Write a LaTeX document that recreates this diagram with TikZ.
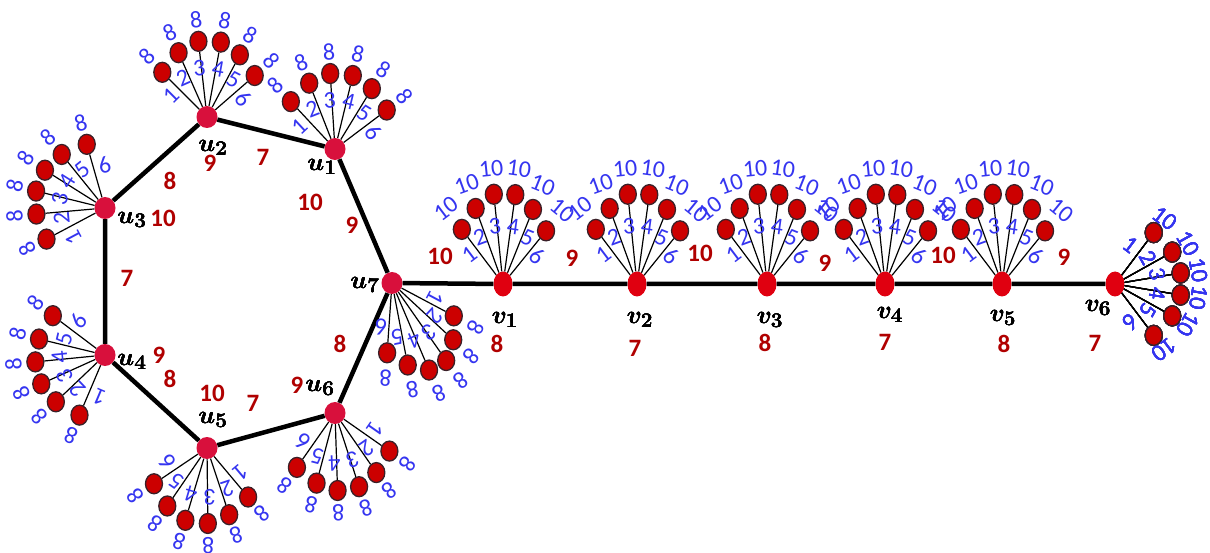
\documentclass[tikz,border=0pt]{standalone}
\usepackage{fontspec}
\usepackage{tikz}
\usetikzlibrary{calc,shapes.geometric}
\newfontfamily\calib{Carlito}
\definecolor{hubred}{HTML}{D8103C}
\definecolor{vred}{HTML}{E00010}
\definecolor{leafred}{HTML}{CC0000}
\definecolor{leafrim}{HTML}{3A2028}
\definecolor{numblue}{HTML}{3535F0}
\definecolor{wtred}{HTML}{B00000}
\newcommand{\fan}[7]{%
  \foreach \fc [count=\i] in {1,0.55,0.18,-0.18,-0.55,-1} {
    \pgfmathsetmacro{\fa}{#2+#3*(\fc)}
    \pgfmathsetmacro{\fb}{#2+1.3*#3*(\fc)}
    \pgfmathsetmacro{\fl}{#4*(1-#5*abs(\fc))}
    \pgfmathsetmacro{\fe}{0.65*\fl}
    \pgfmathsetmacro{\fw}{\fl+#7}
    \node[leaf] (#1-\i) at ($(#1)+(\fa:\fl)$) {};
    \draw[spoke] (#1) -- (#1-\i);
    \node[elab, rotate=\fa-90] (#1-e\i) at ($(#1)+(\fb:\fe)$) {\i};
    \node[elab, rotate=\fa-90] (#1-l\i) at ($(#1)+(\fa:\fw)$) {#6};
  }}
\begin{document}
\begin{tikzpicture}[x=1pt, y=1pt,
  hub/.style={ellipse, fill=hubred, inner sep=0, minimum width=21, minimum height=22},
  vhub/.style={hub, fill=vred, minimum width=19, minimum height=25},
  leaf/.style={ellipse, draw=leafrim, line width=1.3pt, fill=leafred, inner sep=0,
               minimum width=17, minimum height=20},
  spoke/.style={line width=1.2pt},
  main/.style={line width=4.5pt},
  elab/.style={text=numblue, font=\calib\fontsize{24}{24}\selectfont, inner sep=0},
  wt/.style={text=wtred, font=\calib\bfseries\fontsize{25}{25}\selectfont, inner sep=0},
  vname/.style={font=\fontsize{32}{32}\selectfont\boldmath, inner sep=0}]
\useasboundingbox (0,0) rectangle (1210,-553);
\foreach \n/\x/\y in {u1/335/149,u2/207/117,u3/105/208,u4/105/355,u5/207/448,u6/335/413,u7/392/283}
  \node[hub] (\n) at (\x,-\y) {};
\foreach \n/\x/\y in {v1/503/284,v2/637/284,v3/767/284,v4/885/284,v5/1002/284,v6/1115/284}
  \node[vhub] (\n) at (\x,-\y) {};
\draw[main] (u1) -- (u2) -- (u3) -- (u4) -- (u5) -- (u6) -- (u7) -- (u1);
\draw[main] (u7) -- (v1) -- (v2) -- (v3) -- (v4) -- (v5) -- (v6);
\fan{u2}{88}{47}{79}{0.2}{8}{22}
\fan{u1}{85}{48}{78}{0.17}{8}{22}
\fan{u3}{157}{51}{72}{0.08}{8}{22}
\fan{u4}{195}{52}{71}{0.08}{8}{22}
\fan{u5}{262}{48}{78}{0.18}{8}{22}
\fan{u6}{280}{45}{80}{0.17}{8}{22}
\fan{u7}{299}{33}{100}{0.3}{8}{25}
\foreach \v in {v1,v2,v3,v4,v5}
  \fan{\v}{89}{38}{95}{0.28}{10}{26}
\fan{v6}{0}{53}{67}{0.04}{10}{18}
\foreach \a/\b/\x/\y in {u/1/322/167,u/2/213/148,u/3/132/220,u/4/132/362,u/5/213/420,u/6/320/388,u/7/365/285,
    v/1/505/320,v/2/640/320,v/3/770/320,v/4/890/315,v/5/1003/318,v/6/1098/308}
  \node[vname] (l\a\b) at (\x,-\y) {$\a_{\b}$};
\foreach \x/\y/\t [count=\k] in {210/163/9,263/157/7,170/181/8,310/202/10,352/225/9,163/218/10,127/278/7,
    159/355/9,170/379/8,212/393/10,253/403/7,297/385/9,340/344/8,440/256/10,
    572/258/9,700/253/10,825/263/9,943/255/10,1064/257/9,
    497/344/8,635/348/7,765/343/8,885/342/7,1004/344/8,1095/343/7}
  \node[wt] (w\k) at (\x,-\y) {\t};
\end{tikzpicture}
\end{document}
